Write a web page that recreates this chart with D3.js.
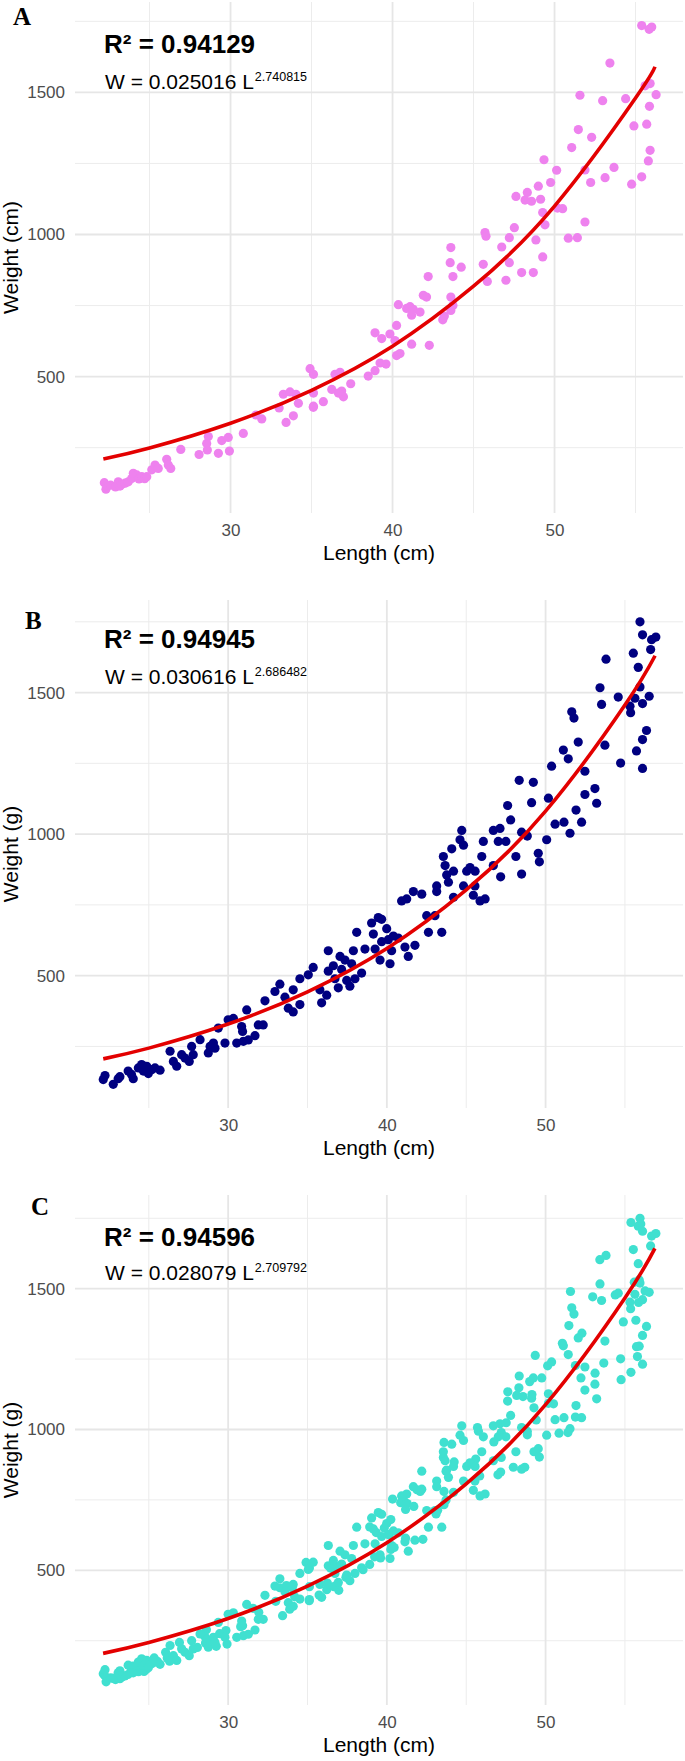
<!DOCTYPE html>
<html><head><meta charset="utf-8">
<script src="https://cdn.jsdelivr.net/npm/d3@7"></script>
<style>body{margin:0;background:#fff}svg{display:block}</style>
</head><body>
<script>
// ---------------- data ----------------
const lengthA = [22.21,22.31,22.6,22.9,23.07,23.18,23.3,23.49,23.69,23.9,24.0,24.21,24.35,24.52,24.7,24.83,25.14,25.34,25.54,26.06,26.16,26.31,26.93,28.06,28.57,28.53,28.63,29.25,29.46,29.86,29.93,30.79,31.57,31.93,33.0,33.43,33.88,35.11,
33.26,33.67,34.04,34.19,34.91,35.12,35.12,35.12,35.73,36.25,36.45,36.76,36.86,36.97,36.66,37.42,38.5,38.92,38.92,39.23,39.6,39.33,39.84,40.15,40.25,40.46,40.25,40.36,40.87,41.08,41.28,41.18,41.7,41.18,41.9,42.1,42.2,42.27,43.1,43.2,43.6,43.6,43.73,43.56,43.73,44.24,43.6,
45.71,45.77,45.6,45.85,46.74,47.0,47.21,47.21,47.52,47.62,47.97,48.18,48.32,48.58,48.69,48.85,49.0,49.14,49.27,49.35,49.41,49.27,49.76,50.13,50.18,50.5,50.85,51.06,51.41,51.47,51.57,51.88,51.88,52.23,52.29,52.97,53.12,53.42,53.67,54.39,54.76,54.9,55.38,55.38,55.69,55.79,55.9,55.86,55.9,55.59,55.84,56.0,56.27];
const weightA = [127,104,118,112,130,115,121,125,130,142,160,154,140,148,141,148,172,189,177,209,189,177,244,226,242,265,289,230,275,286,238,300,365,351,390,339,362,392,
438,446,438,406,528,508,442,396,412,455,508,515,449,429,442,475,502,521,654,548,544,634,650,627,574,581,680,753,740,746,737,716,727,614,786,780,852,610,700,713,733,780,750,901,852,885,954,
1007,994,895,835,956,839,989,901,1024,1134,866,1121,1148,1117,866,981,1170,1124,1077,1263,1034,921,1183,1226,1093,1091,987,1306,989,1369,1490,1044,1227,1183,1342,1471,1200,1603,1236,1478,1177,1382,1203,1735,1388,1259,1296,1451,1531,1523,1722,1730,1492];

const lengthB = [22.13,22.24,22.76,23.07,23.18,23.7,23.91,24.02,24.34,24.55,24.66,24.87,24.97,25.18,25.39,25.71,26.34,26.55,26.76,27.07,27.28,27.55,27.7,27.8,28.23,28.75,28.86,29.07,29.17,29.38,29.8,30.0,30.33,30.54,30.85,30.91,30.96,31.17,31.27,31.69,31.9,32.21,
32.32,32.95,
33.26,33.58,33.79,34.1,34.1,34.52,34.52,35.05,35.36,35.78,35.89,36.21,36.31,36.31,36.63,36.73,36.94,37.05,37.15,37.36,37.47,37.67,37.78,37.89,37.99,38.1,38.41,38.62,39.04,39.15,39.26,39.46,39.67,39.67,39.57,39.99,40.09,40.2,40.3,40.41,40.72,41.14,41.35,40.93,41.25,41.67,41.77,42.2,42.51,42.62,43.03,43.14,43.14,43.46,43.56,43.67,43.77,43.88,44.09,44.2,44.2,44.61,44.72,44.83,44.83,45.03,45.24,45.45,45.56,45.87,45.98,46.08,46.19,
45.55,46.71,46.71,47.02,47.13,47.17,47.5,47.61,47.8,48.13,48.34,48.49,48.49,48.85,49.12,49.23,49.54,49.61,50.07,50.18,50.38,50.6,51.16,51.12,51.43,51.54,51.92,51.65,51.79,52.06,52.27,52.48,52.48,53.11,53.22,53.43,53.53,53.74,53.81,54.58,54.73,55.32,55.36,55.53,55.63,55.73,55.84,55.95,55.95,56.11,56.11,56.11,56.11,56.36,56.53,56.62,56.68,56.95];
const weightB = [133,147,116,136,143,163,151,136,174,186,163,180,154,168,174,166,233,197,180,221,209,197,250,221,274,227,250,262,244,315,262,344,349,262,320,303,268,379,273,288,326,326,
411,444,
470,424,385,372,450,398,489,503,529,450,404,431,588,516,535,489,457,568,522,555,483,463,542,588,489,653,509,594,686,647,594,705,699,620,555,666,627,542,588,640,633,601,568,764,771,797,607,788,712,653,712,817,797,653,921,889,856,830,948,777,869,980,1013,961,817,869,882,784,869,764,921,974,771,
817,889,1013,974,1020,849,974,1101,1050,921,1190,859,1007,993,1111,1183,932,902,980,1127,1240,1035,1042,1297,1266,1003,1085,1432,1410,1325,1042,1222,1140,1161,1109,1517,1458,1314,1618,1484,1251,1452,1429,1639,1480,1294,1589,1750,1520,1704,1334,1461,1232,1366,1487,1652,1687,1696];

// panel C shows the pooled sample (A + B)
const lengthC = lengthA.concat(lengthB);
const weightC = weightA.concat(weightB);

// fitted red curves
const fitLengthA = [22.15,25,30,35,40,45,50,55,56.2];
const fitWeightA = [210,249,336,452,607,818,1100,1480,1590];
const fitLengthB = [22.13,25,30,35,40,45,50,55,56.9];
const fitWeightB = [206,244,329,443,596,803,1081,1456,1630];
const fitLengthC = [22.12,25,30,35,40,45,50,55,56.89];
const fitWeightC = [205,244,329,444,598,807,1088,1467,1643];

const xTicksMajor = [30,40,50];
const xTicksMinor = [25,35,45,55];
const yTicksMajor = [500,1000,1500];
const yTicksMinor = [250,750,1250,1750];

const panelLetters = ["A","B","C"];
const r2Labels = ["R² = 0.94129","R² = 0.94945","R² = 0.94596"];
const eqBase = ["W = 0.025016 L","W = 0.030616 L","W = 0.028079 L"];
const eqExponent = ["2.740815","2.686482","2.709792"];
const yTitles = ["Weight (cm)","Weight (g)","Weight (g)"];
const xTitle = "Length (cm)";
const pointColors = ["#ee82ee","#000080","#40e0d0"];

// ---------------- layout ----------------
const W = 685, H = 1761;
const left = 75, right = 683;
const layout = [
  {top:2,   bottom:513,  xd:[20.4,57.93],  yd:[20.2,1818],   letter:[13,24.5],  r2y:52.5,  eqy:89},
  {top:600, bottom:1108, xd:[20.35,58.66], yd:[32.5,1827],   letter:[25,629],   r2y:648,   eqy:684},
  {top:1195,bottom:1705, xd:[20.35,58.66], yd:[21.7,1832.7], letter:[31,1215],  r2y:1246,  eqy:1280}
];
const datasets = [
  {L:lengthA, Wt:weightA, fL:fitLengthA, fW:fitWeightA},
  {L:lengthB, Wt:weightB, fL:fitLengthB, fW:fitWeightB},
  {L:lengthC, Wt:weightC, fL:fitLengthC, fW:fitWeightC}
];

const svg = d3.select("body").append("svg").attr("width",W).attr("height",H)
  .style("font-family","'Liberation Sans', Arial, sans-serif");
svg.append("rect").attr("width",W).attr("height",H).attr("fill","#fff");

layout.forEach((p,i)=>{
  const ds = datasets[i];
  const x = d3.scaleLinear().domain(p.xd).range([left,right]);
  const y = d3.scaleLinear().domain(p.yd).range([p.bottom,p.top]);
  const g = svg.append("g");

  // grid
  g.selectAll(".ymin").data(yTicksMinor).join("line")
    .attr("x1",left).attr("x2",right).attr("y1",d=>y(d)).attr("y2",d=>y(d))
    .attr("stroke","#ececec").attr("stroke-width",1);
  g.selectAll(".xmin").data(xTicksMinor).join("line")
    .attr("y1",p.top).attr("y2",p.bottom).attr("x1",d=>x(d)).attr("x2",d=>x(d))
    .attr("stroke","#ececec").attr("stroke-width",1);
  g.selectAll(".ymaj").data(yTicksMajor).join("line")
    .attr("x1",left).attr("x2",right).attr("y1",d=>y(d)).attr("y2",d=>y(d))
    .attr("stroke","#e6e6e6").attr("stroke-width",1.8);
  g.selectAll(".xmaj").data(xTicksMajor).join("line")
    .attr("y1",p.top).attr("y2",p.bottom).attr("x1",d=>x(d)).attr("x2",d=>x(d))
    .attr("stroke","#e6e6e6").attr("stroke-width",1.8);

  // axes (labels only)
  const ax = g.append("g").attr("transform",`translate(0,${p.bottom})`)
    .call(d3.axisBottom(x).tickValues(xTicksMajor).tickSize(0).tickPadding(11).tickFormat(d3.format("d")));
  const ay = g.append("g").attr("transform",`translate(${left},0)`)
    .call(d3.axisLeft(y).tickValues(yTicksMajor).tickSize(0).tickPadding(10).tickFormat(d3.format("d")));
  [ax,ay].forEach(a=>{
    a.select(".domain").remove();
    a.selectAll("text").attr("font-size",17).attr("fill","#4d4d4d")
      .attr("font-family","'Liberation Sans', Arial, sans-serif");
  });

  // points
  const pts = ds.L.map((l,j)=>[l,ds.Wt[j]]);
  g.append("g").selectAll("circle").data(pts).join("circle")
    .attr("cx",d=>x(d[0])).attr("cy",d=>y(d[1])).attr("r",4.6)
    .attr("fill",pointColors[i]);

  // fitted curve
  const fit = ds.fL.map((l,j)=>[l,ds.fW[j]]);
  g.append("path").datum(fit)
    .attr("d",d3.line().x(d=>x(d[0])).y(d=>y(d[1])).curve(d3.curveNatural))
    .attr("fill","none").attr("stroke","#e30000").attr("stroke-width",3.6);

  // titles
  g.append("text").attr("x",(left+right)/2).attr("y",p.bottom+47)
    .attr("text-anchor","middle").attr("font-size",21).attr("fill","#000").text(xTitle);
  g.append("text").attr("transform",`translate(18,${(p.top+p.bottom)/2}) rotate(-90)`)
    .attr("text-anchor","middle").attr("font-size",21).attr("fill","#000").text(yTitles[i]);

  // annotations
  g.append("text").attr("x",p.letter[0]).attr("y",p.letter[1])
    .attr("font-family","'Liberation Serif','Times New Roman',serif").attr("font-weight","bold")
    .attr("font-size",25).attr("fill","#000").text(panelLetters[i]);
  g.append("text").attr("x",104).attr("y",p.r2y).attr("font-weight","bold")
    .attr("font-size",26).attr("fill","#000").text(r2Labels[i]);
  const eq = g.append("text").attr("x",105).attr("y",p.eqy).attr("font-size",21).attr("fill","#000");
  eq.append("tspan").text(eqBase[i]);
  eq.append("tspan").attr("font-size",12.5).attr("dy",-8).attr("dx",1).text(eqExponent[i]);
});
</script>
</body></html>
